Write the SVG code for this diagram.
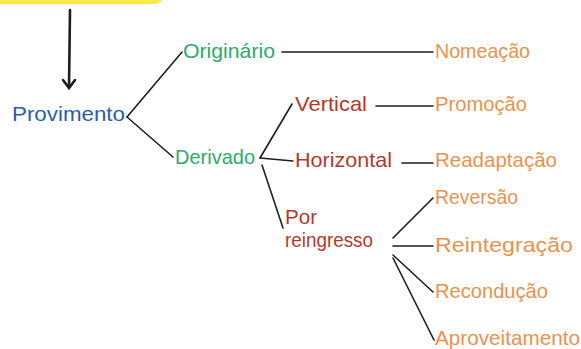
<svg xmlns="http://www.w3.org/2000/svg" width="581" height="349" viewBox="0 0 581 349">
<style>
text { font-family: "Liberation Sans", Arial, sans-serif; font-size: 21px; }
.blue { fill: #2a5ea8; }
.green { fill: #2eaa6e; }
.red { fill: #b03a2e; }
.orange { fill: #e8924e; }
.conn line, .conn polyline { stroke: #1e1e1e; stroke-width: 1.6; fill: none; stroke-linecap: round; }
</style>
<rect width="581" height="349" fill="#ffffff"/>
<g id="top-box"><rect x="-10" y="-20" width="173" height="24" rx="8" fill="#fbe84a"/></g>
<g class="conn" id="connectors">
<line x1="70" y1="10" x2="69" y2="87" style="stroke-width:2.6"/>
<polyline points="63,80 69,88 75,80" style="stroke-width:2.6"/>
<line x1="127" y1="117" x2="182" y2="52"/>
<line x1="127" y1="117" x2="173" y2="157"/>
<line x1="282" y1="52" x2="433" y2="52"/>
<line x1="260" y1="158" x2="292" y2="104"/>
<line x1="260" y1="158" x2="293" y2="161"/>
<line x1="262" y1="165" x2="283" y2="228"/>
<line x1="376" y1="106" x2="433" y2="106"/>
<line x1="402" y1="163" x2="433" y2="163"/>
<line x1="393" y1="238" x2="433" y2="198"/>
<line x1="393" y1="246" x2="433" y2="246"/>
<line x1="393" y1="255" x2="433" y2="292"/>
<line x1="393" y1="258" x2="434" y2="340"/>
</g>
<g id="provimento"><text class="blue" x="12" y="121" textLength="113" lengthAdjust="spacingAndGlyphs">Provimento</text></g>
<g id="originario"><text class="green" x="183" y="58" textLength="92" lengthAdjust="spacingAndGlyphs">Originário</text></g>
<g id="derivado"><text class="green" x="175" y="164" textLength="80" lengthAdjust="spacingAndGlyphs">Derivado</text></g>
<g id="vertical"><text class="red" x="295" y="111" textLength="72" lengthAdjust="spacingAndGlyphs">Vertical</text></g>
<g id="horizontal"><text class="red" x="295" y="167" textLength="97" lengthAdjust="spacingAndGlyphs">Horizontal</text></g>
<g id="por-reingresso"><text class="red" x="285" y="224" textLength="32" lengthAdjust="spacingAndGlyphs">Por</text><text class="red" x="285" y="247" textLength="88" lengthAdjust="spacingAndGlyphs">reingresso</text></g>
<g id="nomeacao"><text class="orange" x="435" y="58" textLength="95" lengthAdjust="spacingAndGlyphs">Nomeação</text></g>
<g id="promocao"><text class="orange" x="435" y="111" textLength="92" lengthAdjust="spacingAndGlyphs">Promoção</text></g>
<g id="readaptacao"><text class="orange" x="435" y="167" textLength="122" lengthAdjust="spacingAndGlyphs">Readaptação</text></g>
<g id="reversao"><text class="orange" x="435" y="204" textLength="83" lengthAdjust="spacingAndGlyphs">Reversão</text></g>
<g id="reintegracao"><text class="orange" x="435" y="252" textLength="138" lengthAdjust="spacingAndGlyphs">Reintegração</text></g>
<g id="reconducao"><text class="orange" x="435" y="298" textLength="113" lengthAdjust="spacingAndGlyphs">Recondução</text></g>
<g id="aproveitamento"><text class="orange" x="435" y="345" textLength="145" lengthAdjust="spacingAndGlyphs">Aproveitamento</text></g>
</svg>
